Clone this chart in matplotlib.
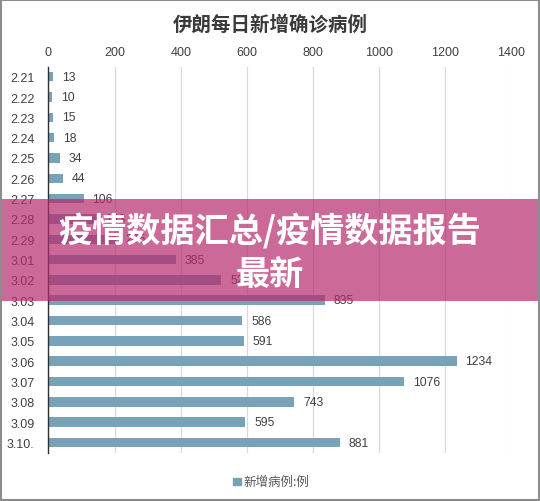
import matplotlib
matplotlib.use("Agg")
import matplotlib.pyplot as plt
from matplotlib.patches import Rectangle

plt.rcParams['font.family'] = ['Liberation Sans', 'Noto Sans CJK SC', 'DejaVu Sans']

dates = ["2.21", "2.22", "2.23", "2.24", "2.25", "2.26", "2.27", "2.28", "2.29",
         "3.01", "3.02", "3.03", "3.04", "3.05", "3.06", "3.07", "3.08", "3.09", "3.10."]
new_cases = [13, 10, 15, 18, 34, 44, 106, 143, 205, 385, 523, 835, 586, 591,
             1234, 1076, 743, 595, 881]
x_ticks = [0, 200, 400, 600, 800, 1000, 1200, 1400]
title = "伊朗每日新增确诊病例"
legend_label = "新增病例:例"
banner_lines = ["疫情数据汇总/疫情数据报告", "最新"]

bar_color = "#78A2B7"
text_color = "#404040"

fig = plt.figure(figsize=(5.4, 5.02), dpi=100)
ax = fig.add_axes([0.0898, 0.0962, 0.8574, 0.7693])

ypos = list(range(len(dates)))
ax.barh(ypos, new_cases, height=0.47, color=bar_color, zorder=3)
ax.set_ylim(len(dates) - 0.5, -0.5)
ax.set_xlim(0, 1400)
ax.set_xticks(x_ticks)
ax.xaxis.tick_top()
ax.tick_params(axis='x', length=0, pad=6, labelsize=9, labelcolor=text_color)
ax.set_yticks(ypos)
ax.set_yticklabels(dates)
ax.tick_params(axis='y', length=0, pad=10, labelsize=9, labelcolor=text_color)
ax.grid(axis='x', color="#D9D9D9", linewidth=0.9, zorder=0)
for s in ["top", "right", "bottom"]:
    ax.spines[s].set_visible(False)
ax.spines["left"].set_color("#303030")
ax.spines["left"].set_linewidth(1.0)
ax.spines["left"].set_zorder(4)

for y, v in zip(ypos, new_cases):
    ax.annotate(str(v), (v, y), xytext=(6.5, 0), textcoords="offset points",
                va="center", ha="left", fontsize=8.8, color=text_color, zorder=4)

fig.text(0.5, 1 - 25 / 502, title, ha="center", va="center", fontsize=14,
         fontweight="bold", color="#3A3A3A",
         family=['Noto Sans CJK SC', 'DejaVu Sans'])

# legend
fig.patches.append(Rectangle((233 / 540, 1 - 486 / 502), 7.5 / 540, 7.5 / 502,
                             transform=fig.transFigure, color=bar_color))
fig.text(243 / 540, 1 - 482 / 502, legend_label, ha="left", va="center",
         fontsize=9, color="#595959", family=['Noto Sans CJK SC', 'DejaVu Sans'])

# banner overlay
fig.patches.append(Rectangle((0, 1 - 302 / 502), 1, 102 / 502,
                             transform=fig.transFigure, facecolor=(182/255, 42/255, 109/255),
                             alpha=0.7, edgecolor="none", zorder=10))
fig.text(0.5, 1 - 231 / 502, banner_lines[0], ha="center", va="center",
         fontsize=24.6, fontweight="heavy", color="white", zorder=11,
         family=['Noto Sans CJK SC', 'DejaVu Sans'])
fig.text(0.5, 1 - 275 / 502, banner_lines[1], ha="center", va="center",
         fontsize=24.6, fontweight="heavy", color="white", zorder=11,
         family=['Noto Sans CJK SC', 'DejaVu Sans'])

# outer border
fig.patches.append(Rectangle((0.001, 0.001), 0.997, 0.997, transform=fig.transFigure,
                             fill=False, edgecolor="#8C8C8C", linewidth=1.5, zorder=12))

fig.savefig("out.png", dpi=100)
